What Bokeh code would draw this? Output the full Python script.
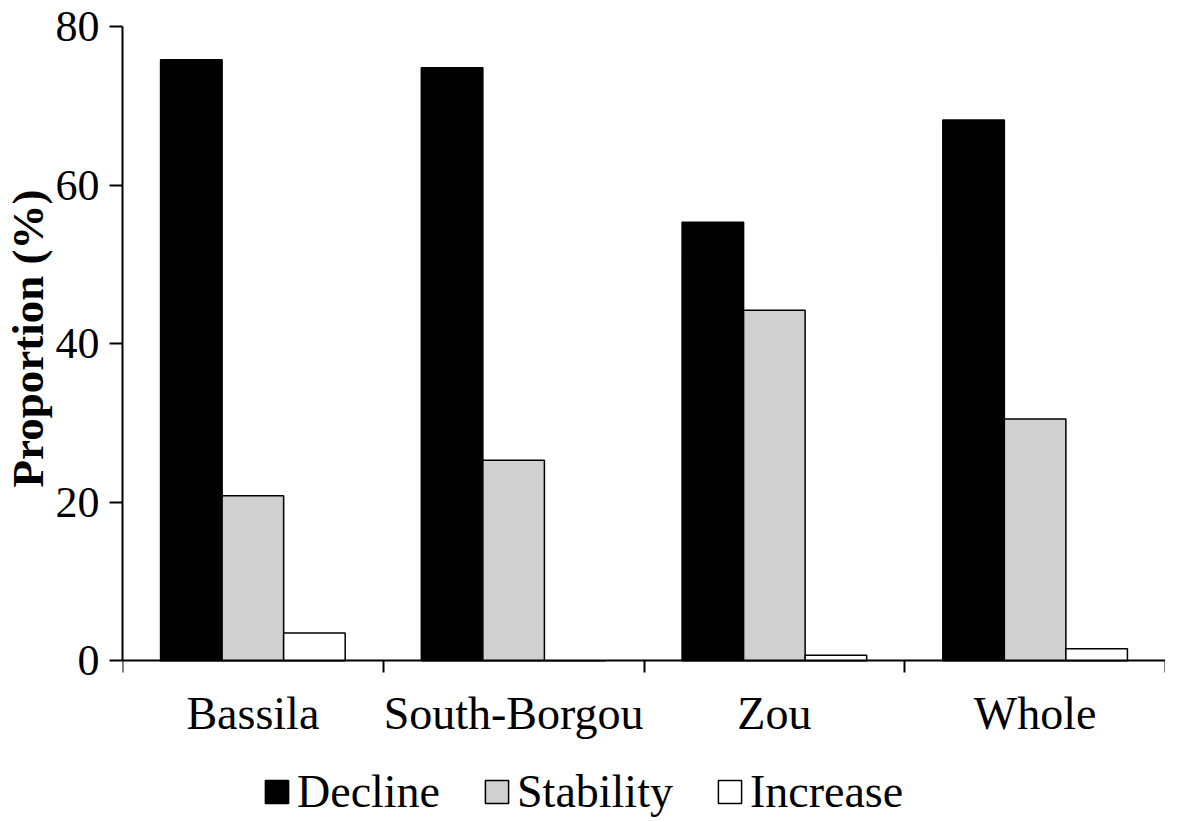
from bokeh.plotting import figure
from bokeh.models import Range1d, FixedTicker, Legend, LegendItem, ColumnDataSource, Title
from bokeh.embed import file_html
from bokeh.resources import INLINE

categories = ["Bassila", "South-Borgou", "Zou", "Whole"]
series = ["Decline", "Stability", "Increase"]
decline = [75.8, 74.8, 55.3, 68.2]
stability = [20.8, 25.3, 44.2, 30.5]
increase = [3.5, 0.0, 0.7, 1.5]
y_ticks = [0, 20, 40, 60, 80]

colors = ["#000000", "#d0d0d0", "#ffffff"]
bar_w = 0.236
FONT = "Liberation Serif"

# frame extends below zero to hold the category labels and the legend
p = figure(width=1165, height=818, x_range=Range1d(0, len(categories)), y_range=Range1d(-19.9, 80),
           output_backend="svg", toolbar_location=None,
           min_border_left=117, min_border_top=26, min_border_right=0, min_border_bottom=0)
p.outline_line_color = None
p.xgrid.visible = False
p.ygrid.visible = False
p.background_fill_color = "white"
p.border_fill_color = "white"

centers = [i + 0.5 for i in range(len(categories))]
renderers = []
for k, (vals, col) in enumerate(zip([decline, stability, increase], colors)):
    src = ColumnDataSource(dict(x=[c + (k - 1) * bar_w for c in centers], top=vals))
    r = p.vbar(x="x", top="top", width=bar_w, bottom=0, source=src,
               fill_color=col, line_color="black", line_width=1.5)
    renderers.append(r)

# x axis drawn at y = 0: ticks at category boundaries (minor), labels at centers (major)
xa = p.xaxis[0]
xa.fixed_location = 0
xa.ticker = FixedTicker(ticks=centers, minor_ticks=list(range(len(categories) + 1)))
xa.major_label_overrides = {c: name for c, name in zip(centers, categories)}
xa.major_tick_out = 0
xa.major_tick_in = 0
xa.minor_tick_out = 12
xa.minor_tick_in = 0
xa.minor_tick_line_color = "black"
xa.minor_tick_line_width = 2
xa.axis_line_width = 2
xa.axis_line_color = "black"
xa.major_label_text_font = FONT
xa.major_label_text_font_size = "46px"
xa.major_label_text_color = "black"
xa.major_label_standoff = 15

ya = p.yaxis[0]
ya.bounds = (0, 80)
ya.ticker = FixedTicker(ticks=y_ticks, minor_ticks=[])
ya.major_tick_out = 13
ya.major_tick_in = 0
ya.major_tick_line_width = 2
ya.major_tick_line_color = "black"
ya.axis_line_width = 2
ya.axis_line_color = "black"
ya.major_label_text_font = FONT
ya.major_label_text_font_size = "44px"
ya.major_label_text_color = "black"
ya.major_label_standoff = 10

ylabel = Title(text="Proportion (%)", align="left", offset=331, standoff=0,
               text_font=FONT, text_font_size="45px", text_font_style="bold", text_color="black")
p.add_layout(ylabel, "left")

legend = Legend(items=[LegendItem(label=s, renderers=[r]) for s, r in zip(series, renderers)],
                orientation="horizontal", location=(140, 0),
                label_text_font=FONT, label_text_font_size="46px", label_text_color="black",
                glyph_width=29, glyph_height=29, spacing=42, label_standoff=6,
                border_line_color=None, background_fill_alpha=0, padding=0, margin=0)
p.add_layout(legend, "center")

open("out.html", "w").write(file_html(p, INLINE))
